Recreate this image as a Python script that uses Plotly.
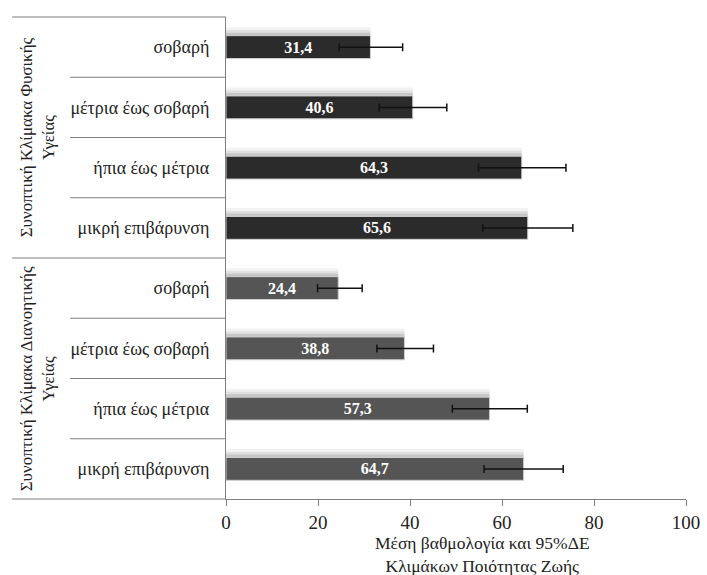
import plotly.graph_objects as go

groups = ["Συνοπτική Κλίμακα Φυσικής<br>Υγείας", "Συνοπτική Κλίμακα Διανοητικής<br>Υγείας"]
categories = ["σοβαρή", "μέτρια έως σοβαρή", "ήπια έως μέτρια", "μικρή επιβάρυνση"]
physical = [31.4, 40.6, 64.3, 65.6]
physical_lo = [24.6, 33.3, 54.9, 55.8]
physical_hi = [38.4, 48.0, 73.9, 75.4]
mental = [24.4, 38.8, 57.3, 64.7]
mental_lo = [19.9, 32.8, 49.2, 56.1]
mental_hi = [29.6, 45.1, 65.5, 73.3]
x_ticks = [0, 20, 40, 60, 80, 100]
x_title = "Μέση βαθμολογία και 95%ΔΕ<br>Κλιμάκων Ποιότητας Ζωής"

FONT = "Liberation Serif, Times New Roman, serif"
colors = ["#2b2b2b", "#555555"]
series = [(physical, physical_lo, physical_hi), (mental, mental_lo, mental_hi)]

n_cat = len(categories)
n_total = n_cat * len(groups)

fig = go.Figure()
all_pos, all_lab = [], []
for g, (vals, lo, hi) in enumerate(series):
    pos = [g * n_cat + i for i in range(n_cat)]
    all_pos += pos
    all_lab += categories
    # soft shadow layers
    for off, alpha in [(-0.33, 0.05), (-0.28, 0.08), (-0.24, 0.11)]:
        fig.add_trace(go.Bar(
            x=vals, y=pos, orientation="h", width=0.38, offset=off,
            marker=dict(color=f"rgba(0,0,0,{alpha})", line=dict(width=0)),
            hoverinfo="skip", showlegend=False))
    fig.add_trace(go.Bar(
        x=vals, y=pos, orientation="h", width=0.38, offset=-0.19,
        marker=dict(color=colors[g], line=dict(color="#d0d0d0", width=1)),
        text=[f"{v:.1f}".replace(".", ",") for v in vals],
        textposition="inside", insidetextanchor="middle", constraintext="none",
        textfont=dict(family=FONT, size=16, color="white", weight="bold"),
        error_x=dict(type="data", symmetric=False,
                     array=[h - v for h, v in zip(hi, vals)],
                     arrayminus=[v - l for v, l in zip(vals, lo)],
                     color="#111111", thickness=1.5, width=4),
        showlegend=False))

shapes = []
for k in range(n_total + 1):
    ypap = 1 - k / n_total
    x0 = -0.465 if k % n_cat == 0 else -0.339
    shapes.append(dict(type="line", xref="paper", yref="paper", x0=x0, x1=0,
                       y0=ypap, y1=ypap, line=dict(color="#808080", width=1.2)))

annotations = []
for g, name in enumerate(groups):
    yc = 1 - (g * n_cat + n_cat / 2) / n_total
    annotations.append(dict(text=name, xref="paper", yref="paper", x=-0.409, y=yc,
                            xanchor="center", yanchor="middle",
                            textangle=-90, showarrow=False,
                            font=dict(family=FONT, size=17, color="#222")))
annotations.append(dict(text=x_title, xref="paper", yref="paper", x=0.557, y=-0.116,
                        showarrow=False, xanchor="center", yanchor="middle",
                        font=dict(family=FONT, size=17.5, color="#222")))

fig.update_layout(
    width=707, height=575, barmode="overlay",
    margin=dict(l=226, r=21, t=17, b=76, autoexpand=False),
    plot_bgcolor="white", paper_bgcolor="white",
    shapes=shapes, annotations=annotations,
    xaxis=dict(range=[0, 100], tickvals=x_ticks, showgrid=False, zeroline=False,
               automargin=False,
               showline=True, linecolor="#808080", linewidth=1.2,
               ticks="outside", ticklen=6, tickcolor="#808080",
               tickfont=dict(family=FONT, size=19, color="#222")),
    yaxis=dict(range=[n_total - 0.5, -0.5], tickvals=all_pos, ticktext=all_lab,
               automargin=False,
               showgrid=False, zeroline=False, showline=True, linecolor="#808080",
               linewidth=1.2, ticks="", ticklabelstandoff=12,
               tickfont=dict(family=FONT, size=18, color="#222")),
)

fig.write_html("out.html", config={"displayModeBar": False},
               post_script="document.body.style.margin='0';")
